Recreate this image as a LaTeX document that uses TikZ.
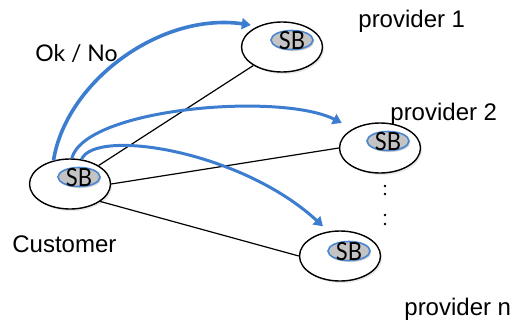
\documentclass[tikz,border=0pt]{standalone}
\usepackage{fontspec}
\setmainfont{Liberation Sans}
\newfontfamily\sbfont[FakeStretch=0.88]{Lato}
\newfontfamily\okfont{Lato}
\usetikzlibrary{arrows.meta,shadows,shapes.geometric}
\definecolor{arrowblue}{HTML}{3C7DD0}
\definecolor{sbblue}{HTML}{4A86D0}
\definecolor{sbgray}{HTML}{C4C4C4}
\begin{document}
\begin{tikzpicture}[x=0.5pt,y=-0.5pt,
  big/.style={ellipse, draw=black, line width=0.7pt, fill=white,
    minimum width=40.5pt, minimum height=25pt, inner sep=0pt,
    drop shadow={opacity=0.18, shadow xshift=0.8pt, shadow yshift=-1pt}},
  sb/.style={ellipse, draw=sbblue, line width=0.8pt, fill=sbgray,
    minimum width=21pt, minimum height=9.5pt, inner sep=0pt,
    drop shadow={opacity=0.35, shadow xshift=0.6pt, shadow yshift=-0.8pt},
    label={[font=\sbfont\fontsize{12.5}{12.5}\selectfont, inner sep=0pt, yshift=-0.4pt]center:SB}},
  conn/.style={black, line width=0.6pt},
  msg/.style={arrowblue, line width=1.5pt, -{Triangle[width=5.5pt,length=4.5pt]}},
  lbl/.style={inner sep=0pt, font=\fontsize{12}{12}\selectfont},
  dot/.style={circle, fill=black, inner sep=0pt, minimum size=1.3pt}
]
\useasboundingbox (0,0) rectangle (517,321);

% big ellipses
\node[big] (cust) at (70,184) {};
\node[big] (p1) at (282,47) {};
\node[big] (p2) at (380,148) {};
\node[big] (pn) at (340,256) {};

% black connectors
\draw[conn] (cust) -- (p1);
\draw[conn] (cust.east) -- (p2.west);
\draw[conn] (cust.-30) -- (pn.west);

% inner SB nodes
\node[sb] (sbc) at (79,177) {};
\node[sb] (sb1) at (292,40) {};
\node[sb] (sb2) at (388,141) {};
\node[sb] (sbn) at (349,251) {};

% blue message arrows
\draw[msg, line width=1.8pt] (cust.125) .. controls (66,82) and (160,12) .. ([xshift=5pt,yshift=11pt]p1.west);
\draw[msg] (cust.86) .. controls (85,108) and (280,92) .. ([xshift=1.5pt,yshift=12.5pt]p2.west);
\draw[msg] (cust.65) .. controls (95,128) and (240,150) .. ([xshift=-8.5pt,yshift=2pt]pn.north);

% dots
\node[dot] (d1) at (385,186) {};
\node[dot] (d2) at (385,194) {};
\node[dot] (d3) at (385,215) {};
\node[dot] (d4) at (385,224) {};

% labels
\node[lbl, anchor=base west] (l1) at (358,27) {provider 1};
\node[lbl, anchor=base west] (l2) at (390,120) {provider 2};
\node[lbl, anchor=base west] (ln) at (404,315) {provider n};
\node[lbl, anchor=base west] (lc) at (12,252) {Customer};
\node[inner sep=0pt, anchor=base west, font=\okfont\fontsize{11.5}{11.5}\selectfont] (ok) at (35,61) {Ok / No};
\end{tikzpicture}
\end{document}
